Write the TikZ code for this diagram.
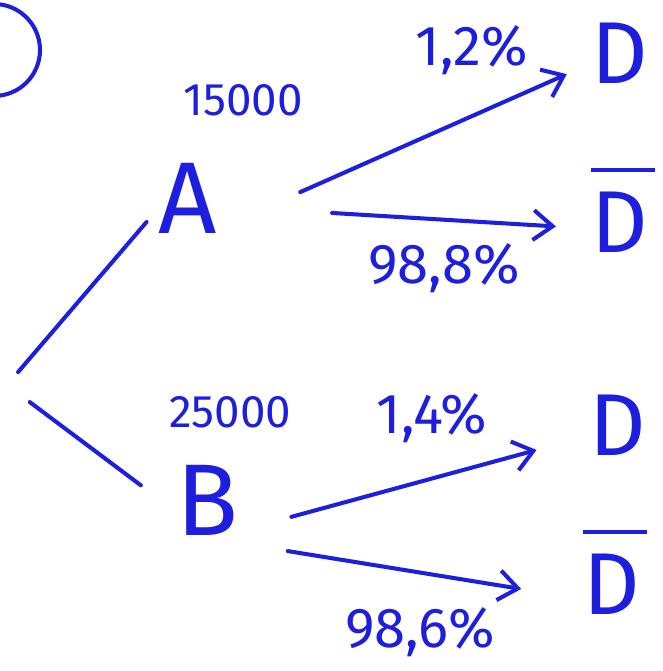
\documentclass[tikz,border=0pt]{standalone}
\usepackage{fontspec}
\setmainfont{Fira Sans}
\usepackage{xcolor}
\usetikzlibrary{arrows.meta}

\definecolor{inkblue}{RGB}{30,30,222}
\newcommand{\notD}{\vbox{\hrule height 2.3pt\kern 0.4cm\hbox{D\kern 4pt}}}

\begin{document}
\begin{tikzpicture}[
        x=0.02cm, y=-0.02cm,
        letter/.style={
            text=inkblue,
            inner sep=0pt,
            minimum width=1.2cm,
            minimum height=1.6cm,
            font=\fontsize{50}{54}\selectfont
        },
        event/.style={
            letter,
            font=\fontsize{58}{62}\selectfont
        },
        count/.style={
            text=inkblue,
            inner sep=1pt,
            font=\fontsize{26}{28}\selectfont
        },
        prob/.style={
            text=inkblue,
            inner sep=1pt,
            font=\fontsize{32}{34}\selectfont
        },
        branch/.style={
            draw=inkblue,
            line width=2.3pt,
            line cap=round
        },
        arrow/.style={
            branch,
            -{Straight Barb[length=11pt, width=17pt]}
        }
    ]

    \clip (0,0) rectangle (662,671);

    % circled number, cut off at the edge
    \draw[branch] (-6,50) circle[radius=0.92cm];

    % nodes
    \coordinate (root) at (7,385);

    \node[event] (A) at (188,198) {A};
    \node[event] (B) at (207,500) {B};

    \node[count] (nA) at (243,100) {15000};
    \node[count] (nB) at (230,412) {25000};

    \node[letter] (D1) at (620,53) {D};
    \node[letter] (notD1) at (623,210) {\notD};
    \node[letter] (D2) at (618,425) {D};
    \node[letter] (notD2) at (615,572) {\notD};

    \node[prob] (pA1) at (472,50) {1,2\%};
    \node[prob] (pA2) at (444,268) {98,8\%};
    \node[prob] (pB1) at (432,418) {1,4\%};
    \node[prob] (pB2) at (420,632) {98,6\%};

    % branches
    \draw[branch, shorten <=0.34cm, shorten >=0.34cm] (root) -- (A.200);
    \draw[branch, shorten <=0.57cm, shorten >=0.87cm] (root) -- (B.200);

    % arrows
    \draw[arrow, shorten <=1.79cm, shorten >=0.5cm] (A.-45) -- (D1.200);
    \draw[arrow, shorten <=2.28cm, shorten >=0.7cm] (A.-15) -- (notD1.210);
    \draw[arrow, shorten <=1.1cm, shorten >=1.06cm] (B.-45) -- (D2.200);
    \draw[arrow, shorten <=1.34cm, shorten >=1.25cm] (B.-70) -- (notD2.220);

\end{tikzpicture}
\end{document}
